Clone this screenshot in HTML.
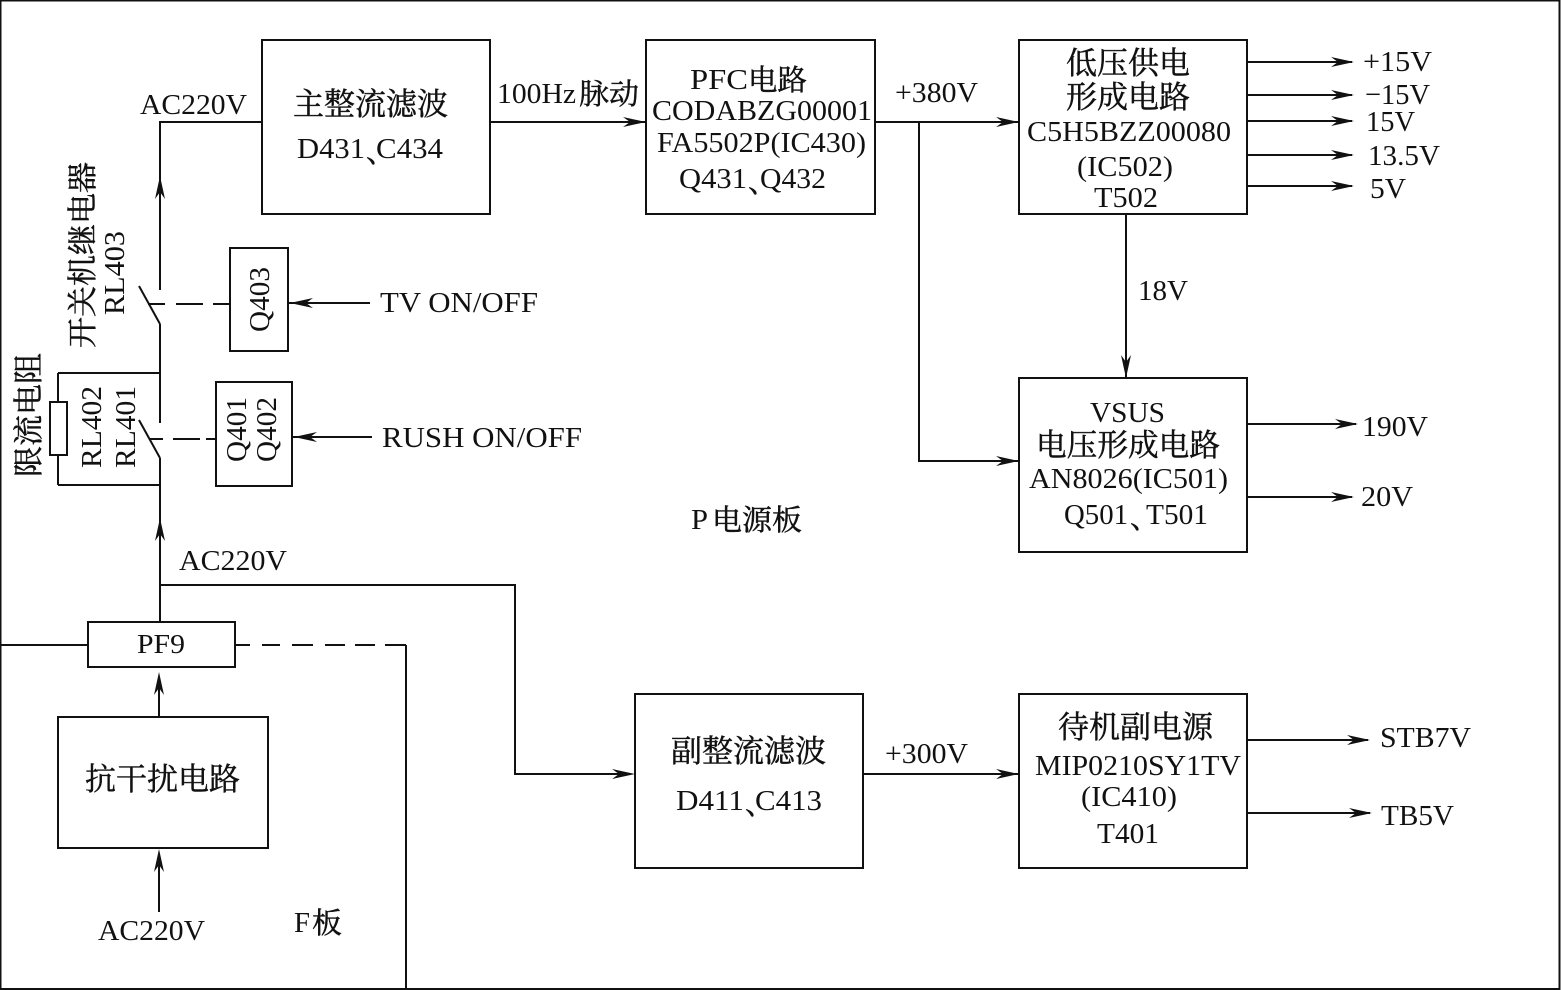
<!DOCTYPE html>
<html><head><meta charset="utf-8"><style>
html,body{margin:0;padding:0;background:#fff}
svg{display:block}
text{font-family:"Liberation Serif","Noto Serif CJK SC",serif;fill:#111;font-size:29px}
.c{stroke:#111;stroke-width:.45}
.l{fill:none;stroke:#111;stroke-width:2}
.d{fill:none;stroke:#111;stroke-width:2}
.b{fill:#fff;stroke:#111;stroke-width:2}
.a{fill:#111;stroke:none}
</style></head><body>
<svg width="1561" height="990" viewBox="0 0 1561 990" xmlns="http://www.w3.org/2000/svg">
<rect width="1561" height="990" fill="#fff"/>
<rect x="0.5" y="0.5" width="1559" height="988.5" fill="none" stroke="#111" stroke-width="2"/>
<defs>
<path id="ar" d="M0 0L-23 -5L-16 0L-23 5Z"/>
</defs>
<!-- lines -->
<path class="l" d="M160 622V585H515V774H620"/>
<path class="l" d="M159 717V680"/>
<path class="l" d="M159 912V860"/>
<path class="l" d="M160 585V458M160 423V324M160 290V122H262"/>
<path class="l" d="M58 373H160M58 485H160M58 373V485"/>
<path class="l" d="M139 286L160 324M139 420L160 458"/>
<path class="d" d="M148 304H165M176 304H203M213 304H230"/>
<path class="d" d="M149 439H163M173 439H200M206 439H216"/>
<path class="l" d="M288 303H370M293 437H372"/>
<path class="l" d="M0 645H88"/>
<path class="d" d="M236 645H250M262 645H280M292 645H313M325 645H345M355 645H375M385 645H406"/>
<path class="l" d="M406 645V990"/>
<path class="l" d="M490 122H646M875 122H1019M919 122V461H1019"/>
<path class="l" d="M1126 214V378"/>
<path class="l" d="M1247 62H1352M1247 95H1352M1247 121H1352M1247 155H1352M1247 186H1352M1247 424H1356M1247 497H1352M1247 740H1368M1247 813H1370"/>
<path class="l" d="M863 774H1019"/>
<!-- boxes -->
<rect class="b" x="262" y="40" width="228" height="174"/>
<rect class="b" x="646" y="40" width="229" height="174"/>
<rect class="b" x="1019" y="40" width="228" height="174"/>
<rect class="b" x="1019" y="378" width="228" height="174"/>
<rect class="b" x="635" y="694" width="228" height="174"/>
<rect class="b" x="1019" y="694" width="228" height="174"/>
<rect class="b" x="58" y="717" width="210" height="131"/>
<rect class="b" x="88" y="622" width="147" height="45"/>
<rect class="b" x="230" y="248" width="58" height="103"/>
<rect class="b" x="216" y="382" width="76" height="104"/>
<rect class="b" x="50" y="402" width="17" height="53"/>
<!-- arrows -->
<g class="a">
<use href="#ar" transform="translate(646 122)"/>
<use href="#ar" transform="translate(1019 122)"/>
<use href="#ar" transform="translate(1019 461)"/>
<use href="#ar" transform="translate(1126 378) rotate(90)"/>
<use href="#ar" transform="translate(1354 62)"/>
<use href="#ar" transform="translate(1354 95)"/>
<use href="#ar" transform="translate(1354 121)"/>
<use href="#ar" transform="translate(1354 155)"/>
<use href="#ar" transform="translate(1354 186)"/>
<use href="#ar" transform="translate(1358 424)"/>
<use href="#ar" transform="translate(1354 497)"/>
<use href="#ar" transform="translate(1370 740)"/>
<use href="#ar" transform="translate(1372 813)"/>
<use href="#ar" transform="translate(1019 774)"/>
<use href="#ar" transform="translate(635 774)"/>
<use href="#ar" transform="translate(290 303) rotate(180)"/>
<use href="#ar" transform="translate(294 437) rotate(180)"/>
<use href="#ar" transform="translate(160 176) rotate(-90)"/>
<use href="#ar" transform="translate(160 518) rotate(-90)"/>
<use href="#ar" transform="translate(159 672) rotate(-90)"/>
<use href="#ar" transform="translate(159 849) rotate(-90)"/>
</g>
<!-- labels -->
<text x="140" y="114" textLength="107" lengthAdjust="spacingAndGlyphs">AC220V</text>
<text class="c" x="293" y="115" textLength="155" lengthAdjust="spacingAndGlyphs" style="font-size:31px">主整流滤波</text>
<text x="297" y="158" textLength="68" lengthAdjust="spacingAndGlyphs">D431</text>
<text class="c" x="366" y="162">、</text>
<text x="376" y="158" textLength="67" lengthAdjust="spacingAndGlyphs">C434</text>
<text x="497" y="103" textLength="79" lengthAdjust="spacingAndGlyphs">100Hz</text>
<text class="c" x="579" y="104" textLength="60" lengthAdjust="spacingAndGlyphs">脉动</text>
<text x="690" y="89" textLength="58" lengthAdjust="spacingAndGlyphs">PFC</text>
<text class="c" x="748" y="90" textLength="59" lengthAdjust="spacingAndGlyphs">电路</text>
<text x="652" y="120" textLength="220" lengthAdjust="spacingAndGlyphs">CODABZG00001</text>
<text x="657" y="152" textLength="209" lengthAdjust="spacingAndGlyphs">FA5502P(IC430)</text>
<text x="679" y="188" textLength="68" lengthAdjust="spacingAndGlyphs">Q431</text>
<text class="c" x="748" y="192">、</text>
<text x="760" y="188" textLength="66" lengthAdjust="spacingAndGlyphs">Q432</text>
<text x="895" y="102" textLength="83" lengthAdjust="spacingAndGlyphs">+380V</text>
<text class="c" x="1066" y="74" textLength="124" lengthAdjust="spacingAndGlyphs" style="font-size:31px">低压供电</text>
<text class="c" x="1066" y="108" textLength="124" lengthAdjust="spacingAndGlyphs" style="font-size:31px">形成电路</text>
<text x="1027" y="141" textLength="204" lengthAdjust="spacingAndGlyphs">C5H5BZZ00080</text>
<text x="1077" y="176" textLength="96" lengthAdjust="spacingAndGlyphs">(IC502)</text>
<text x="1094" y="207" textLength="64" lengthAdjust="spacingAndGlyphs">T502</text>
<text x="1363" y="71" textLength="69" lengthAdjust="spacingAndGlyphs">+15V</text>
<text x="1365" y="104" textLength="65" lengthAdjust="spacingAndGlyphs">−15V</text>
<text x="1366" y="131" textLength="49" lengthAdjust="spacingAndGlyphs">15V</text>
<text x="1368" y="165" textLength="72" lengthAdjust="spacingAndGlyphs">13.5V</text>
<text x="1370" y="198" textLength="36" lengthAdjust="spacingAndGlyphs">5V</text>
<text x="1138" y="300" textLength="50" lengthAdjust="spacingAndGlyphs">18V</text>
<text x="1090" y="422" textLength="75" lengthAdjust="spacingAndGlyphs">VSUS</text>
<text class="c" x="1036" y="456" textLength="184" lengthAdjust="spacingAndGlyphs" style="font-size:31px">电压形成电路</text>
<text x="1029" y="488" textLength="199" lengthAdjust="spacingAndGlyphs">AN8026(IC501)</text>
<text x="1064" y="524" textLength="64" lengthAdjust="spacingAndGlyphs">Q501</text>
<text class="c" x="1130" y="528">、</text>
<text x="1146" y="524" textLength="62" lengthAdjust="spacingAndGlyphs">T501</text>
<text x="1362" y="436" textLength="66" lengthAdjust="spacingAndGlyphs">190V</text>
<text x="1361" y="506" textLength="52" lengthAdjust="spacingAndGlyphs">20V</text>
<text x="691" y="529" textLength="17" lengthAdjust="spacingAndGlyphs">P</text>
<text class="c" x="712" y="530" textLength="90" lengthAdjust="spacingAndGlyphs">电源板</text>
<text x="380" y="312" textLength="158" lengthAdjust="spacingAndGlyphs">TV ON/OFF</text>
<text x="382" y="447" textLength="200" lengthAdjust="spacingAndGlyphs">RUSH ON/OFF</text>
<text x="179" y="570" textLength="108" lengthAdjust="spacingAndGlyphs">AC220V</text>
<text x="137" y="653" textLength="48" lengthAdjust="spacingAndGlyphs" style="font-size:27px">PF9</text>
<text class="c" x="85" y="790" textLength="155" lengthAdjust="spacingAndGlyphs" style="font-size:31px">抗干扰电路</text>
<text x="98" y="940" textLength="107" lengthAdjust="spacingAndGlyphs">AC220V</text>
<text x="294" y="932" textLength="16" lengthAdjust="spacingAndGlyphs">F</text>
<text class="c" x="312" y="933" textLength="30" lengthAdjust="spacingAndGlyphs">板</text>
<text class="c" x="671" y="762" textLength="155" lengthAdjust="spacingAndGlyphs" style="font-size:31px">副整流滤波</text>
<text x="676" y="810" textLength="68" lengthAdjust="spacingAndGlyphs">D411</text>
<text class="c" x="745" y="814">、</text>
<text x="755" y="810" textLength="67" lengthAdjust="spacingAndGlyphs">C413</text>
<text x="885" y="763" textLength="83" lengthAdjust="spacingAndGlyphs">+300V</text>
<text class="c" x="1058" y="738" textLength="155" lengthAdjust="spacingAndGlyphs" style="font-size:31px">待机副电源</text>
<text x="1035" y="775" textLength="206" lengthAdjust="spacingAndGlyphs">MIP0210SY1TV</text>
<text x="1081" y="806" textLength="96" lengthAdjust="spacingAndGlyphs">(IC410)</text>
<text x="1097" y="843" textLength="62" lengthAdjust="spacingAndGlyphs">T401</text>
<text x="1380" y="747" textLength="91" lengthAdjust="spacingAndGlyphs">STB7V</text>
<text x="1381" y="825" textLength="73" lengthAdjust="spacingAndGlyphs">TB5V</text>
<!-- rotated -->
<text class="c" transform="translate(93 348) rotate(-90)" textLength="186" lengthAdjust="spacingAndGlyphs" style="font-size:30px">开关机继电器</text>
<text transform="translate(124 315) rotate(-90)" textLength="84" lengthAdjust="spacingAndGlyphs">RL403</text>
<text class="c" transform="translate(39 477) rotate(-90)" textLength="124" lengthAdjust="spacingAndGlyphs" style="font-size:30px">限流电阻</text>
<text transform="translate(101 468) rotate(-90)" textLength="82" lengthAdjust="spacingAndGlyphs">RL402</text>
<text transform="translate(135 468) rotate(-90)" textLength="82" lengthAdjust="spacingAndGlyphs">RL401</text>
<text transform="translate(269 332) rotate(-90)" textLength="65" lengthAdjust="spacingAndGlyphs">Q403</text>
<text transform="translate(246 462) rotate(-90)" textLength="65" lengthAdjust="spacingAndGlyphs">Q401</text>
<text transform="translate(276 462) rotate(-90)" textLength="65" lengthAdjust="spacingAndGlyphs">Q402</text>
</svg>
</body></html>
